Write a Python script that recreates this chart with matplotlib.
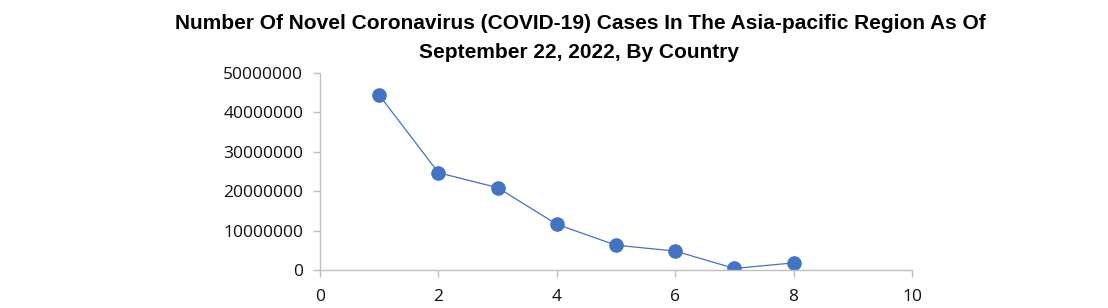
import matplotlib
matplotlib.use("Agg")
import matplotlib.pyplot as plt

# data
rank = [1, 2, 3, 4, 5, 6, 7, 8]
cases = [44400000, 24700000, 20900000, 11600000, 6300000, 4800000, 400000, 1800000]
x_ticks = [0, 2, 4, 6, 8, 10]
y_ticks = [0, 10000000, 20000000, 30000000, 40000000, 50000000]

blue = '#4472C4'
grey = '#BFBFBF'

fig = plt.figure(figsize=(11.08, 3.08), dpi=100)
ax = fig.add_axes([0.2888, 0.1234, 0.5343, 0.6396])

ax.plot(rank, cases, '-', color=blue, lw=0.9)
ax.plot(rank, cases, 'o', color=blue, ms=9.5, mec=blue)

ax.set_xlim(0, 10)
ax.set_ylim(0, 50000000)
ax.set_xticks(x_ticks)
ax.set_yticks(y_ticks)
ax.set_xticklabels([str(v) for v in x_ticks])
ax.set_yticklabels([str(v) for v in y_ticks])

for s in ['top', 'right']:
    ax.spines[s].set_visible(False)
for s in ['left', 'bottom']:
    ax.spines[s].set_color(grey)
    ax.spines[s].set_linewidth(1)

ax.tick_params(axis='both', colors=grey, length=5, width=1,
               labelcolor='#111111', labelsize=12.5)
ax.tick_params(axis='y', pad=7)
ax.tick_params(axis='x', pad=9)
for lab in ax.get_xticklabels() + ax.get_yticklabels():
    lab.set_family(['Open Sans', 'DejaVu Sans'])

title_font = ['Liberation Sans', 'DejaVu Sans']
fig.text(0.524, 0.925,
         'Number Of Novel Coronavirus (COVID-19) Cases In The Asia-pacific Region As Of',
         ha='center', va='center', fontsize=15, fontweight='bold', family=title_font)
fig.text(0.523, 0.830, 'September 22, 2022, By Country',
         ha='center', va='center', fontsize=15, fontweight='bold', family=title_font)

fig.savefig('out.png', dpi=100)
